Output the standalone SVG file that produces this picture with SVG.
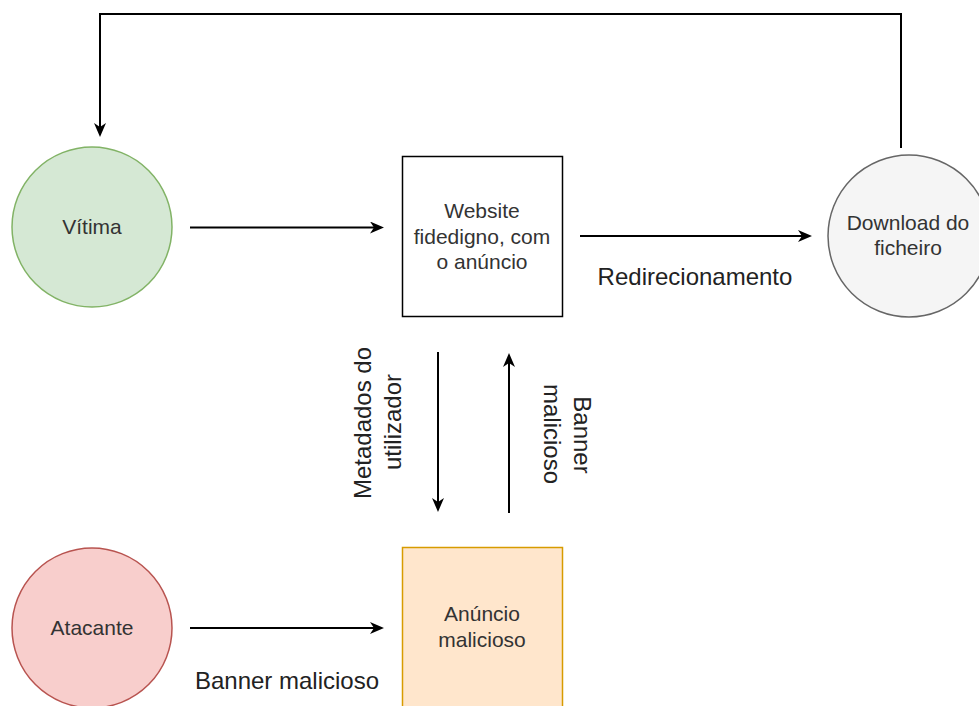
<svg xmlns="http://www.w3.org/2000/svg" width="979" height="706" viewBox="0 0 979 706">
<style>
.node text{font-family:"Liberation Sans",Arial,sans-serif;font-size:21px;fill:#333333;text-anchor:middle}
.lbl{font-family:"Liberation Sans",Arial,sans-serif;font-size:24px;fill:#222222;text-anchor:middle}
.edge{fill:none;stroke:#000;stroke-width:2}
</style>
<defs>
<marker id="arr" viewBox="0 0 14 12" refX="10" refY="6" markerWidth="14" markerHeight="12" markerUnits="userSpaceOnUse" orient="auto">
<path d="M0,0 L14,6 L0,12 L4,6 Z" fill="#000"/>
</marker>
</defs>
<rect width="979" height="706" fill="#fff"/>
<g id="connectors">
<path class="edge" d="M901,148 L901,14 L100,14 L100,133" marker-end="url(#arr)"/>
<path class="edge" d="M190,227.5 L380,227.5" marker-end="url(#arr)"/>
<path class="edge" d="M580,236 L808,236" marker-end="url(#arr)"/>
<path class="edge" d="M438,352 L438,508" marker-end="url(#arr)"/>
<path class="edge" d="M509,513 L509,357" marker-end="url(#arr)"/>
<path class="edge" d="M190,628 L380,628" marker-end="url(#arr)"/>
<text class="lbl" x="695" y="285">Redirecionamento</text>
<text class="lbl" x="287" y="689">Banner malicioso</text>
<text class="lbl" transform="translate(362,423) rotate(-90)" x="0" y="8.5">Metadados do</text>
<text class="lbl" transform="translate(392,422) rotate(-90)" x="0" y="8.5">utilizador</text>
<text class="lbl" transform="translate(582,435) rotate(90)" x="0" y="8.5">Banner</text>
<text class="lbl" transform="translate(552,434) rotate(90)" x="0" y="8.5">malicioso</text>
</g>
<g id="vitima" class="node">
<circle cx="92" cy="227" r="80" fill="#d5e8d4" stroke="#82b366" stroke-width="1.5"/>
<text x="92" y="234">Vítima</text>
</g>
<g id="website" class="node">
<rect x="402.5" y="156.5" width="160" height="160" fill="#fff" stroke="#000" stroke-width="1.5"/>
<text x="482" y="218">Website</text>
<text x="482" y="244">fidedigno, com</text>
<text x="482" y="269">o anúncio</text>
</g>
<g id="download" class="node">
<circle cx="909" cy="236" r="81" fill="#f5f5f5" stroke="#666666" stroke-width="1.5"/>
<text x="908" y="230">Download do</text>
<text x="908" y="255">ficheiro</text>
</g>
<g id="atacante" class="node">
<circle cx="92" cy="628" r="80" fill="#f8cecc" stroke="#b85450" stroke-width="1.5"/>
<text x="92" y="635">Atacante</text>
</g>
<g id="anuncio" class="node">
<rect x="402.5" y="547.5" width="160" height="170" fill="#ffe6cc" stroke="#d79b00" stroke-width="1.5"/>
<text x="482" y="621">Anúncio</text>
<text x="482" y="647">malicioso</text>
</g>
</svg>
